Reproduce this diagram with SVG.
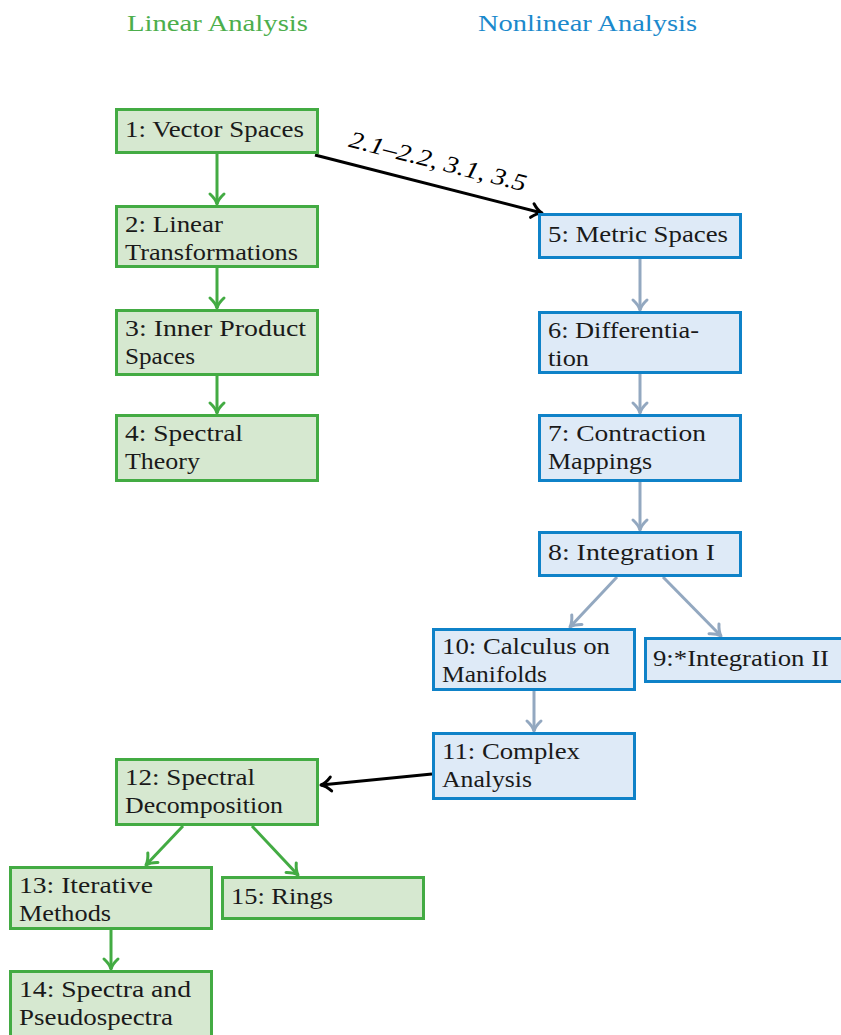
<svg xmlns="http://www.w3.org/2000/svg" width="841" height="1035" viewBox="0 0 841 1035" font-family="Liberation Serif, Times New Roman, serif">
<style>
text{font-family:'Liberation Serif','Times New Roman',Tinos,serif;font-size:24px;fill:#1a1a1a}
.g rect{fill:#d6e8d0;stroke:#43ab43;stroke-width:3}
.b rect{fill:#deeaf7;stroke:#0f82c8;stroke-width:3}
.hg{fill:#4cae4c}
.hb{fill:#1b89cc}
.eg{stroke:#43ab43;stroke-width:3;fill:none}
.eb{stroke:#93a8c0;stroke-width:3;fill:none}
.ek{stroke:#000;stroke-width:3;fill:none}
.lbl{font-style:italic;fill:#000}
</style>
<defs>
<marker id="ag" markerUnits="userSpaceOnUse" markerWidth="20" markerHeight="20" refX="13" refY="10" orient="auto"><path d="M3,3 Q8,8.5 13,10 Q8,11.5 3,17" fill="none" stroke="#43ab43" stroke-width="3" stroke-linecap="round" stroke-linejoin="round"/></marker>
<marker id="ab" markerUnits="userSpaceOnUse" markerWidth="20" markerHeight="20" refX="13" refY="10" orient="auto"><path d="M3,3 Q8,8.5 13,10 Q8,11.5 3,17" fill="none" stroke="#93a8c0" stroke-width="3" stroke-linecap="round" stroke-linejoin="round"/></marker>
<marker id="ak" markerUnits="userSpaceOnUse" markerWidth="20" markerHeight="20" refX="13" refY="10" orient="auto"><path d="M3,3 Q8,8.5 13,10 Q8,11.5 3,17" fill="none" stroke="#000" stroke-width="3" stroke-linecap="round" stroke-linejoin="round"/></marker>
</defs>

<text class="hg" x="127" y="31" textLength="181" lengthAdjust="spacingAndGlyphs">Linear Analysis</text>
<text class="hb" x="478" y="31" textLength="219" lengthAdjust="spacingAndGlyphs">Nonlinear Analysis</text>

<g id="edges">
<line class="eg" x1="217" y1="154" x2="217" y2="204" marker-end="url(#ag)"/>
<line class="eg" x1="217" y1="268" x2="217" y2="308" marker-end="url(#ag)"/>
<line class="eg" x1="217" y1="376" x2="217" y2="413" marker-end="url(#ag)"/>
<line class="ek" x1="315" y1="155" x2="542" y2="213" marker-end="url(#ak)"/>
<text class="lbl" x="436" y="169" text-anchor="middle" transform="rotate(14.3 436 169)" textLength="182" lengthAdjust="spacingAndGlyphs">2.1–2.2, 3.1, 3.5</text>
<line class="eb" x1="640" y1="259" x2="640" y2="310" marker-end="url(#ab)"/>
<line class="eb" x1="640" y1="374" x2="640" y2="413" marker-end="url(#ab)"/>
<line class="eb" x1="640" y1="482" x2="640" y2="530" marker-end="url(#ab)"/>
<line class="eb" x1="617" y1="577" x2="570" y2="627" marker-end="url(#ab)"/>
<line class="eb" x1="663" y1="577" x2="721" y2="636" marker-end="url(#ab)"/>
<line class="eb" x1="534" y1="691" x2="534" y2="731" marker-end="url(#ab)"/>
<line class="ek" x1="432" y1="774" x2="321" y2="785" marker-end="url(#ak)"/>
<line class="eg" x1="183" y1="826" x2="146" y2="865" marker-end="url(#ag)"/>
<line class="eg" x1="252" y1="826" x2="298" y2="875" marker-end="url(#ag)"/>
<line class="eg" x1="111" y1="930" x2="111" y2="969" marker-end="url(#ag)"/>
</g>

<g id="n1" class="g"><rect x="116.5" y="109.5" width="201" height="43"/><text x="125" y="137" textLength="179" lengthAdjust="spacingAndGlyphs">1: Vector Spaces</text></g>
<g id="n2" class="g"><rect x="116.5" y="206.5" width="201" height="60"/><text x="125" y="232" textLength="98" lengthAdjust="spacingAndGlyphs">2: Linear</text><text x="125" y="260" textLength="173" lengthAdjust="spacingAndGlyphs">Transformations</text></g>
<g id="n3" class="g"><rect x="116.5" y="310.5" width="201" height="64"/><text x="125" y="336" textLength="181" lengthAdjust="spacingAndGlyphs">3: Inner Product</text><text x="125" y="364" textLength="70" lengthAdjust="spacingAndGlyphs">Spaces</text></g>
<g id="n4" class="g"><rect x="116.5" y="415.5" width="201" height="65"/><text x="125" y="441" textLength="118" lengthAdjust="spacingAndGlyphs">4: Spectral</text><text x="125" y="469" textLength="75" lengthAdjust="spacingAndGlyphs">Theory</text></g>

<g id="n5" class="b"><rect x="539.5" y="214.5" width="201" height="43"/><text x="548" y="242" textLength="180" lengthAdjust="spacingAndGlyphs">5: Metric Spaces</text></g>
<g id="n6" class="b"><rect x="539.5" y="312.5" width="201" height="60"/><text x="548" y="338" textLength="151" lengthAdjust="spacingAndGlyphs">6: Differentia-</text><text x="548" y="366" textLength="41" lengthAdjust="spacingAndGlyphs">tion</text></g>
<g id="n7" class="b"><rect x="539.5" y="415.5" width="201" height="65"/><text x="548" y="441" textLength="158" lengthAdjust="spacingAndGlyphs">7: Contraction</text><text x="548" y="469" textLength="104" lengthAdjust="spacingAndGlyphs">Mappings</text></g>
<g id="n8" class="b"><rect x="539.5" y="532.5" width="201" height="43"/><text x="548" y="560" textLength="167" lengthAdjust="spacingAndGlyphs">8: Integration I</text></g>
<g id="n10" class="b"><rect x="433.5" y="629.5" width="201" height="60"/><text x="442" y="654" textLength="168" lengthAdjust="spacingAndGlyphs">10: Calculus on</text><text x="442" y="682" textLength="105" lengthAdjust="spacingAndGlyphs">Manifolds</text></g>
<g id="n9" class="b"><rect x="645.5" y="638.5" width="201" height="43"/><text x="653" y="666" textLength="176" lengthAdjust="spacingAndGlyphs">9:*Integration II</text></g>
<g id="n11" class="b"><rect x="433.5" y="733.5" width="201" height="65"/><text x="442" y="759" textLength="138" lengthAdjust="spacingAndGlyphs">11: Complex</text><text x="442" y="787" textLength="90" lengthAdjust="spacingAndGlyphs">Analysis</text></g>

<g id="n12" class="g"><rect x="116.5" y="759.5" width="201" height="65"/><text x="125" y="785" textLength="130" lengthAdjust="spacingAndGlyphs">12: Spectral</text><text x="125" y="813" textLength="158" lengthAdjust="spacingAndGlyphs">Decomposition</text></g>
<g id="n13" class="g"><rect x="10.5" y="867.5" width="201" height="61"/><text x="19" y="893" textLength="134" lengthAdjust="spacingAndGlyphs">13: Iterative</text><text x="19" y="921" textLength="92" lengthAdjust="spacingAndGlyphs">Methods</text></g>
<g id="n15" class="g"><rect x="222.5" y="877.5" width="201" height="41"/><text x="231" y="904" textLength="102" lengthAdjust="spacingAndGlyphs">15: Rings</text></g>
<g id="n14" class="g"><rect x="10.5" y="971.5" width="201" height="65"/><text x="19" y="997" textLength="172" lengthAdjust="spacingAndGlyphs">14: Spectra and</text><text x="19" y="1025" textLength="154" lengthAdjust="spacingAndGlyphs">Pseudospectra</text></g>
</svg>
